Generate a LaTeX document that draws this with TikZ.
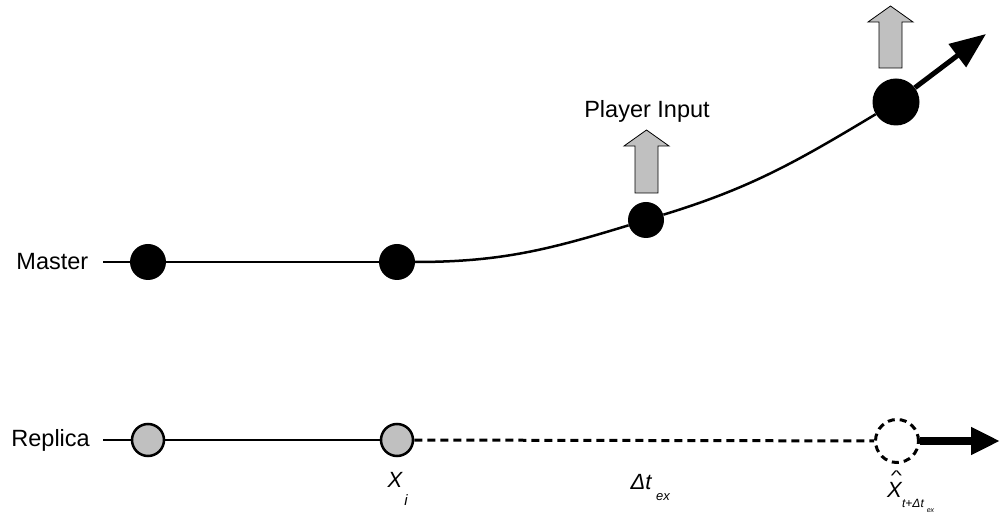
\documentclass[tikz,border=0pt]{standalone}
\usepackage{fontspec}
\setmainfont{Liberation Sans}
\usetikzlibrary{arrows.meta}
\definecolor{pgray}{HTML}{C0C0C0}
\newcommand{\myhat}{\rlap{\hspace{3.8pt}\raisebox{17pt}{\upshape\fontsize{14}{16}\selectfont\scalebox{1.7}[1]{\^{}}}}}
\begin{document}
\begin{tikzpicture}[x=1pt,y=1pt,
  lbl/.style={font=\fontsize{23.5}{27}\selectfont, inner sep=0pt},
  mathlbl/.style={font=\fontsize{22}{26}\selectfont\itshape, inner sep=0pt},
  sublbl/.style={font=\fontsize{13}{15}\selectfont\itshape, inner sep=0pt},
  tinylbl/.style={font=\fontsize{7}{8}\selectfont\itshape, inner sep=0pt},
  mdot/.style={circle, fill=black, minimum size=36pt, inner sep=0pt},
  bigdot/.style={circle, fill=black, minimum size=47pt, inner sep=0pt},
  rdot/.style={circle, fill=pgray, draw=black, line width=2.5pt, minimum size=32pt, inner sep=0pt},
  ghost/.style={circle, fill=white, draw=black, line width=3pt, dash pattern=on 7pt off 5pt, minimum size=43pt, inner sep=0pt},
  mline/.style={line width=2.5pt},
  dline/.style={line width=3pt, dash pattern=on 8pt off 5pt},
  barrow/.style={fill=pgray, draw=black, line width=0.8pt, line join=miter},
  motion/.style={line width=5pt, -{Triangle[length=36pt,width=28pt]}},
  rmotion/.style={line width=7.5pt, -{Triangle[length=29pt,width=26pt]}}
]
\useasboundingbox (0,0) rectangle (1002,514);

% Master row
\node[lbl, anchor=east] (master) at (88.5,252) {Master};
\coordinate (m0) at (103,252);
\node[mdot] (n1) at (148,252) {};
\node[mdot] (n2) at (397,252) {};
\node[mdot] (n3) at (646,294) {};
\node[bigdot] (n4) at (896,412) {};
\coordinate (mtip) at (986,480);

\draw[mline] (m0) -- (n1);
\draw[mline] (n1) -- (n2);
\draw[mline] (n2) to[out=0,in=197] (n3);
\draw[mline] (n3) to[out=17,in=211] (n4);
\draw[motion] (n4) -- (mtip);

% Player input
\node[lbl] (pin) at (647,403) {Player Input};
\draw[barrow] (635,321) -- (635,368) -- (624,368) -- (646.5,384) -- (669,368) -- (658,368) -- (658,321) -- cycle;
\draw[barrow] (879,446) -- (879,492) -- (868,492) -- (890.5,508) -- (913,492) -- (902,492) -- (902,446) -- cycle;

% Replica row
\node[lbl, anchor=east] (replica) at (90,74) {Replica};
\coordinate (r0) at (103,74);
\node[rdot] (r1) at (148,74) {};
\node[rdot] (r2) at (397,74) {};
\node[ghost] (r3) at (897,73) {};
\coordinate (rtip) at (1000,73);

\draw[mline] (r0) -- (r1);
\draw[mline] (r1) -- (r2);
\draw[dline] (r2) -- (r3);
\draw[rmotion] (r3) -- (rtip);

% Labels
\node[mathlbl] (xi) at (395,34.5) {X};
\node[font=\fontsize{15}{17}\selectfont\itshape, inner sep=0pt] (xisub) at (406,14) {i};
\node[mathlbl] (dt) at (641,32) {Δt};
\node[sublbl] (dtsub) at (663,17) {ex};
\node[mathlbl, anchor=base] (xh) at (894.5,16.5) {\myhat X};
\node[font=\fontsize{12}{14}\selectfont\itshape, inner sep=0pt] (xhsub) at (913,11) {t+Δt};
\node[tinylbl] (xhsub2) at (930.5,3) {ex};
\end{tikzpicture}
\end{document}
